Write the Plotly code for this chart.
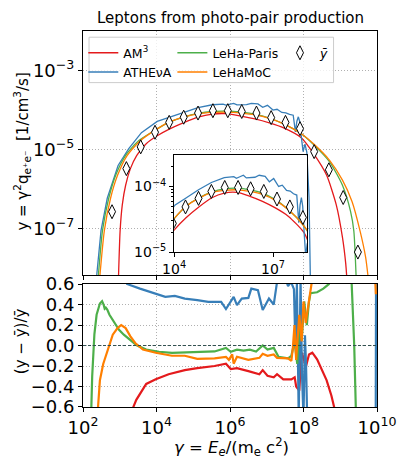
import numpy as np
import plotly.graph_objects as go

RED = "#e41a1c"
BLUE = "#377eb8"
GREEN = "#4daf4a"
ORANGE = "#ff7f00"
FONT = "DejaVu Sans"

# ---- top panel: log10(gamma) and log10(gamma^2 q) ----
am3_lg = [2.96, 3.01, 3.07, 3.16, 3.29, 3.46, 3.72, 4.02, 4.36, 4.74, 5.13, 5.52,
          5.91, 6.30, 6.68, 7.07, 7.46, 7.94, 8.28, 8.63, 8.89, 9.06, 9.15, 9.19]
am3_ly = [-8.4, -7.05, -6.39, -5.90, -5.48, -5.15, -4.85, -4.65, -4.475, -4.315, -4.175, -4.10,
          -4.09, -4.15, -4.225, -4.325, -4.45, -4.70, -5.11, -5.65, -6.39, -7.22, -7.89, -8.4]

athena_lg = [2.35, 2.49, 2.66, 2.955, 3.24, 3.59, 4.02, 4.36, 4.74, 5.13, 5.52, 5.81, 5.89,
             5.96, 6.10, 6.19, 6.32, 6.45, 6.58, 6.76, 6.89, 7.02, 7.17, 7.28, 7.41, 7.52,
             7.62, 7.72, 7.78, 7.82, 7.86, 7.90, 7.95, 7.99, 8.04, 8.09, 8.15, 8.20]
athena_ly = [-8.4, -7.05, -6.23, -5.40, -4.98, -4.57, -4.285, -4.175, -4.05, -3.94, -3.865, -3.85, -3.875,
             -3.86, -3.83, -3.87, -3.86, -3.86, -3.83, -3.845, -3.93, -3.88, -4.0, -3.98, -4.06, -4.07,
             -4.11, -4.13, -4.55, -4.28, -4.17, -4.30, -4.75, -5.05, -4.86, -5.06, -6.2, -9.0]

lehap_lg = [2.40, 2.53, 2.70, 2.90, 3.17, 3.52, 4.02, 4.36, 4.74, 5.13, 5.52, 5.91,
            6.30, 6.68, 7.07, 7.46, 7.94, 8.28, 8.71, 9.06, 9.28, 9.37, 9.41, 9.44]
lehap_ly = [-8.4, -7.05, -6.23, -5.62, -5.13, -4.77, -4.475, -4.30, -4.175, -4.085, -4.035, -4.025,
            -4.05, -4.10, -4.20, -4.35, -4.60, -4.88, -5.31, -5.90, -6.56, -7.06, -7.72, -8.4]

lehamoc_lg = [2.44, 2.58, 2.75, 2.94, 3.20, 3.55, 4.02, 4.36, 4.74, 5.13, 5.52, 5.91,
              6.30, 6.68, 7.07, 7.46, 7.94, 8.28, 8.71, 9.06, 9.32, 9.54, 9.69, 9.78]
lehamoc_ly = [-8.4, -7.055, -6.23, -5.65, -5.15, -4.78, -4.475, -4.30, -4.18, -4.095, -4.06, -4.05,
              -4.075, -4.12, -4.21, -4.35, -4.60, -4.86, -5.27, -5.77, -6.31, -7.06, -7.72, -8.4]

ybar_lg = [2.79, 3.18, 3.57, 3.96, 4.345, 4.74, 5.13, 5.535, 5.94, 6.32, 6.72, 7.12,
           7.51, 7.905, 8.29, 8.69, 9.08, 9.48]
ybar_ly = [-6.57, -5.48, -4.93, -4.56, -4.31, -4.18, -4.075, -4.015, -4.015, -4.035, -4.075, -4.19,
           -4.31, -4.47, -5.05, -5.51, -6.21, -7.59]

# ---- bottom panel: relative deviation (y - ybar)/ybar ----
am3_rel_lg = [3.30, 3.37, 3.45, 3.55, 3.72, 3.98, 4.33, 4.77, 5.11, 5.58, 5.89, 6.02, 6.19, 6.50,
              6.80, 6.89, 7.02, 7.19, 7.28, 7.45, 7.67, 7.76, 7.80, 7.885, 7.95, 8.00, 8.06, 8.15,
              8.24, 8.37, 8.50, 8.63, 8.76, 8.84, 8.90]
am3_rel = [-0.75, -0.6, -0.53, -0.47, -0.375, -0.33, -0.28, -0.24, -0.22, -0.20, -0.177, -0.23, -0.22, -0.25,
           -0.28, -0.24, -0.295, -0.31, -0.28, -0.33, -0.33, -0.31, -0.40, -0.44, -0.07, -0.12, -0.215, -0.087,
           -0.07, -0.135, -0.23, -0.34, -0.49, -0.6, -0.7]

athena_rel_lg = [3.15, 3.20, 3.55, 3.98, 4.24, 4.50, 4.77, 5.11, 5.41, 5.76, 5.89, 6.10, 6.19, 6.32,
                 6.50, 6.58, 6.76, 6.89, 7.06, 7.19, 7.28, 7.40, 7.50, 7.58, 7.66, 7.74, 7.78, 7.82,
                 7.87, 7.92, 7.96, 8.00, 8.04, 8.07, 8.10, 8.15, 9.965, 9.975]
athena_rel = [0.7, 0.6, 0.555, 0.506, 0.475, 0.484, 0.458, 0.443, 0.426, 0.426, 0.356, 0.475, 0.395, 0.458,
              0.465, 0.555, 0.54, 0.346, 0.458, 0.40, 0.62, 0.7, 0.66, 0.58, 0.62, 0.55, 0.0, 0.6,
              -0.7, 0.65, -0.3, -0.7, 0.1, -0.2, -0.7, -1.0, -0.8, 0.8]

lehap_rel_lg = [2.22, 2.25, 2.31, 2.37, 2.46, 2.52, 2.56, 2.59, 2.62, 2.66, 2.72, 2.85, 2.98, 3.11,
                3.29, 3.46, 3.72, 4.07, 4.42, 4.77, 5.11, 5.58, 5.89, 6.02, 6.19, 6.37, 6.54, 6.71,
                6.89, 7.02, 7.19, 7.32, 7.58, 7.67, 7.755, 7.83, 7.885, 7.95, 8.02, 8.09, 8.15, 8.19,
                8.37, 8.54, 8.69, 8.80, 9.30, 9.38, 9.43]
lehap_rel = [-0.7, -0.3, 0.11, 0.30, 0.41, 0.433, 0.40, 0.36, 0.37, 0.35, 0.30, 0.22, 0.154, 0.106,
             0.048, 0.003, -0.04, -0.061, -0.071, -0.065, -0.061, -0.058, -0.023, -0.061, -0.04, -0.05, -0.04, -0.058,
             0.0, -0.04, -0.023, -0.11, -0.125, -0.10, 0.04, -0.18, 0.17, 0.05, 0.43, 0.20, 0.43, 0.51,
             0.52, 0.555, 0.60, 0.8, 0.7, 0.0, -0.7]

lehamoc_rel_lg = [2.39, 2.42, 2.46, 2.55, 2.63, 2.72, 2.81, 2.94, 3.04, 3.16, 3.29, 3.42, 3.63, 3.98,
                  4.42, 4.77, 5.11, 5.58, 5.89, 5.97, 6.06, 6.10, 6.19, 6.50, 6.80, 6.89, 7.02, 7.19,
                  7.28, 7.58, 7.67, 7.71, 7.755, 7.80, 7.885, 7.95, 8.00, 8.06, 8.15, 8.24, 8.30, 9.93, 9.97]
lehamoc_rel = [-0.7, -0.5, -0.34, -0.18, -0.09, 0.01, 0.106, 0.17, 0.20, 0.17, 0.09, 0.025, -0.04, -0.071,
               -0.10, -0.10, -0.13, -0.125, -0.11, -0.14, -0.087, -0.177, -0.11, -0.14, -0.12, -0.08, -0.10, -0.087,
               -0.12, -0.125, -0.15, -0.023, 0.20, -0.14, 0.30, 0.04, 0.43, 0.22, 0.43, 0.62, 0.8, 0.8, 0.5]

x_ticks = [1e2, 1e4, 1e6, 1e8, 1e10]
x_ticktext = ["10<sup>2</sup>", "10<sup>4</sup>", "10<sup>6</sup>", "10<sup>8</sup>", "10<sup>10</sup>"]
y_ticks = [1e-3, 1e-5, 1e-7]
y_ticktext = ["10<sup>−3</sup>", "10<sup>−5</sup>", "10<sup>−7</sup>"]
rel_ticks = [0.6, 0.4, 0.2, 0.0, -0.2, -0.4, -0.6]
rel_ticktext = ["0.6", "0.4", "0.2", "0.0", "−0.2", "−0.4", "−0.6"]
inset_xticks = [1e4, 1e7]
inset_xticktext = ["10<sup>4</sup>", "10<sup>7</sup>"]
inset_yticks = [1e-5, 1e-4]
inset_yticktext = ["10<sup>−5</sup>", "10<sup>−4</sup>"]


def p10(a):
    return 10 ** np.asarray(a, dtype=float)


models = [
    ("AM<sup>3</sup>", RED, am3_lg, am3_ly, am3_rel_lg, am3_rel, "legend", "spline"),
    ("ATHEνA", BLUE, athena_lg, athena_ly, athena_rel_lg, athena_rel, "legend", "linear"),
    ("LeHa-Paris", GREEN, lehap_lg, lehap_ly, lehap_rel_lg, lehap_rel, "legend2", "spline"),
    ("LeHaMoC", ORANGE, lehamoc_lg, lehamoc_ly, lehamoc_rel_lg, lehamoc_rel, "legend2", "spline"),
]

fig = go.Figure()

for name, color, lg, ly, rlg, rel, leg, shape in models:
    # main panel
    fig.add_trace(go.Scatter(
        x=p10(lg), y=p10(ly), mode="lines", name=name, legend=leg,
        line=dict(color=color, width=1.3, shape=shape, smoothing=0.6),
        xaxis="x", yaxis="y",
    ))
    # inset
    fig.add_trace(go.Scatter(
        x=p10(lg), y=p10(ly), mode="lines", showlegend=False,
        line=dict(color=color, width=1.3, shape=shape, smoothing=0.6),
        xaxis="x3", yaxis="y3",
    ))
    # residual panel
    fig.add_trace(go.Scatter(
        x=p10(rlg), y=rel, mode="lines", showlegend=False,
        line=dict(color=color, width=2.2),
        xaxis="x2", yaxis="y2",
    ))

diamond = dict(symbol="diamond-tall", size=10, color="white", line=dict(color="black", width=1))
fig.add_trace(go.Scatter(
    x=p10(ybar_lg), y=p10(ybar_ly), mode="markers", name="<i>ȳ</i>", legend="legend3",
    marker=diamond, xaxis="x", yaxis="y",
))
fig.add_trace(go.Scatter(
    x=p10(ybar_lg), y=p10(ybar_ly), mode="markers", showlegend=False,
    marker=diamond, xaxis="x3", yaxis="y3",
))

axis_common = dict(
    showline=True, linecolor="black", linewidth=1, mirror=True,
    ticks="outside", ticklen=4, tickwidth=1, tickcolor="black",
    tickfont=dict(family=FONT, size=18, color="black"),
    gridcolor="#b0b0b0", griddash="1px,2px", gridwidth=1, zeroline=False,
)
leg_font = dict(family=FONT, size=12.5, color="black")

# the page puts the figure 8px in from the window corner, so the figure is 400x452
fig.update_layout(
    width=400, height=452,
    margin=dict(l=74.7, r=18.7, t=17.7, b=53.3),
    plot_bgcolor="white", paper_bgcolor="white",
    font=dict(family=FONT, color="black"),
    xaxis=dict(axis_common, type="log", range=[2, 10], domain=[0, 1], anchor="y",
               tickvals=x_ticks, showticklabels=False, showgrid=True),
    yaxis=dict(axis_common, type="log", range=[-8.18, -2], domain=[0.35, 1], anchor="x",
               tickvals=y_ticks, ticktext=y_ticktext, showgrid=True),
    xaxis2=dict(axis_common, type="log", range=[2, 10], domain=[0, 1], anchor="y2",
                tickvals=x_ticks, ticktext=x_ticktext, showgrid=True, ticklabeloverflow="allow"),
    yaxis2=dict(axis_common, range=[-0.6, 0.6], domain=[0, 0.327], anchor="x2",
                tickvals=rel_ticks, ticktext=rel_ticktext, showgrid=True),
    xaxis3=dict(axis_common, type="log", range=[4, 8.04], domain=[0.31, 0.763], anchor="y3",
                tickvals=inset_xticks, ticktext=inset_xticktext, showgrid=False,
                tickfont=dict(family=FONT, size=14, color="black")),
    yaxis3=dict(axis_common, type="log", range=[-5, -3.53], domain=[0.411, 0.669], anchor="x3",
                tickvals=inset_yticks, ticktext=inset_yticktext, showgrid=False,
                tickfont=dict(family=FONT, size=14, color="black"),
                minor=dict(ticks="outside", ticklen=2, tickcolor="black",
                           tickvals=[2e-5, 3e-5, 4e-5, 5e-5, 6e-5, 7e-5, 8e-5, 9e-5, 2e-4, 3e-4])),
    legend=dict(x=0.001, y=0.981, xanchor="left", yanchor="top", bgcolor="rgba(0,0,0,0)",
                font=leg_font, itemwidth=30, tracegroupgap=0),
    legend2=dict(x=0.304, y=0.981, xanchor="left", yanchor="top", bgcolor="rgba(0,0,0,0)",
                 font=leg_font, itemwidth=30, tracegroupgap=0),
    legend3=dict(x=0.67, y=0.981, xanchor="left", yanchor="top", bgcolor="rgba(0,0,0,0)",
                 font=leg_font, itemwidth=30, tracegroupgap=0),
    showlegend=True,
)

# white background of inset
fig.add_shape(type="rect", xref="x3 domain", yref="y3 domain", x0=0, x1=1, y0=0, y1=1,
              fillcolor="white", line=dict(width=0), layer="below")
# zero reference line in the residual panel
fig.add_shape(type="line", xref="x2 domain", yref="y2", x0=0, x1=1, y0=0, y1=0,
              line=dict(color="#2f4f4f", width=1, dash="3px,2px"))
# legend frame
fig.add_shape(type="rect", xref="paper", yref="paper",
              x0=(89 - 82.7) / 306.6, x1=(344 - 82.7) / 306.6,
              y0=(406.7 - 78) / 381, y1=(406.7 - 32) / 381,
              fillcolor="rgba(255,255,255,0.8)", line=dict(color="#cccccc", width=1), layer="above")

label = dict(xref="paper", yref="paper", showarrow=False, xanchor="center", yanchor="middle")
fig.add_annotation(label, text="Leptons from photo-pair production",
                   x=0.5, y=(406.7 - 13) / 381, font=dict(family=FONT, size=15))
fig.add_annotation(label, text="y = γ<sup>2</sup>q<sub>e⁺e⁻</sub>  [1/cm<sup>3</sup>/s]",
                   x=(19 - 82.7) / 306.6, y=(406.7 - 148) / 381, textangle=-90,
                   font=dict(family=FONT, size=15))
fig.add_annotation(label, text="(y − ȳ)/ȳ",
                   x=(18 - 82.7) / 306.6, y=(406.7 - 340) / 381, textangle=-90,
                   font=dict(family=FONT, size=15))
fig.add_annotation(label, text="<i>γ</i> = <i>E<sub>e</sub></i>/(m<sub>e</sub> c<sup>2</sup>)",
                   x=0.504, y=(406.7 - 447) / 381, font=dict(family=FONT, size=16.5))

fig.write_html("out.html")
